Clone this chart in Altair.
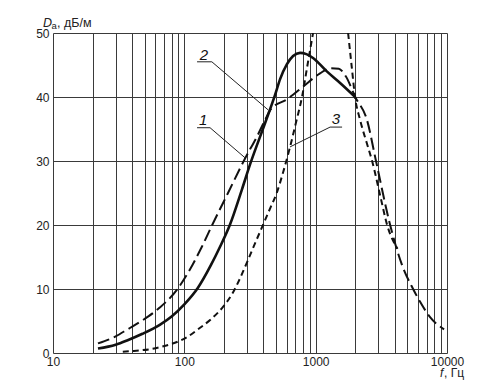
import altair as alt
import pandas as pd

# ---- data ----
# curve 1 (long dash)
f1 = [22, 30, 37, 48, 65, 88, 110, 136, 163, 215, 290, 357, 412, 460, 600, 800, 1080,
      1300, 1500, 1700, 2000, 2460, 2880, 3690, 4500, 5520, 6240, 7430, 9500]
y1 = [1.5, 2.6, 3.7, 5.1, 7.1, 9.9, 13.0, 16.6, 20.0, 25.0, 30.4, 33.8, 36.4, 38.2, 39.6,
      41.6, 43.7, 44.5, 44.4, 43.2, 40.0, 36.4, 30.0, 20.0, 14.0, 10.0, 8.0, 5.6, 3.7]
# curve 2 (solid)
f2 = [22, 30, 37, 48, 65, 80, 100, 127, 160, 187, 222, 274, 317, 420, 490, 536, 603, 673,
      760, 850, 955, 1216, 1535, 2000]
y2 = [0.7, 1.3, 2.0, 3.0, 4.4, 5.7, 7.6, 10.2, 13.8, 16.6, 20.0, 25.5, 29.5, 36.4, 40.3,
      42.8, 45.1, 46.4, 46.9, 46.7, 46.1, 44.0, 42.2, 40.0]
# curve 3 (short dash), two branches
f3a = [34, 40, 65, 105, 131, 160, 197, 234, 266, 305, 350, 397, 450, 505, 570, 638, 710,
       787, 870, 955]
y3a = [0.2, 0.3, 0.9, 2.5, 3.9, 5.3, 7.2, 9.4, 11.7, 14.5, 17.4, 20.0, 22.6, 25.0, 28.5,
       32.2, 36.1, 40.0, 45.2, 50.0]
f3b = [1766, 1880, 1995, 2180, 2450, 2690, 3100, 3500, 4200]
y3b = [50.0, 44.8, 40.0, 36.4, 32.8, 30.0, 24.6, 20.0, 16.3]

# curve labels and leader lines
lab_text = ["1", "2", "3"]
lab_f = [139, 141, 1429]
lab_y = [36.4, 46.6, 36.6]
lead_id = ["1", "1", "1", "2", "2", "2", "3", "3", "3"]
lead_f = [125, 157, 290, 125, 162, 434, 1589, 1288, 638]
lead_y = [35.2, 35.2, 30.5, 45.5, 45.5, 38.0, 35.3, 35.3, 32.2]

x_grid = [m * 10 ** e for e in (1, 2, 3) for m in range(1, 10)] + [10000]
y_ticks = [0, 10, 20, 30, 40, 50]

df1 = pd.DataFrame({"f": f1, "y": y1})
df2 = pd.DataFrame({"f": f2, "y": y2})
df3 = pd.DataFrame({"f": f3a + f3b, "y": y3a + y3b,
                    "seg": ["a"] * len(f3a) + ["b"] * len(f3b)})
dfl = pd.DataFrame({"t": lab_text, "f": lab_f, "y": lab_y})
dfs = pd.DataFrame({"id": lead_id, "f": lead_f, "y": lead_y, "i": list(range(len(lead_f)))})

FONT = "Liberation Sans"
INK = "#111111"

xscale = alt.Scale(type="log", domain=[10, 10000], nice=False)
yscale = alt.Scale(domain=[0, 50], nice=False, zero=False)
xaxis = alt.Axis(values=x_grid, format="d", title=None, grid=True, ticks=False,
                 domain=False, labelFlush=False, labelOverlap=False,
                 labelExpr="(datum.value == 10 || datum.value == 100 || datum.value == 1000 || datum.value == 10000) ? datum.label : ''",
                 labelFont=FONT, labelFontSize=12, labelColor="#222", labelPadding=3,
                 gridColor="#3a3a3a", gridWidth=1, gridOpacity=1)
yaxis = alt.Axis(values=y_ticks, title=None, grid=True, ticks=False, domain=False,
                 labelFont=FONT, labelFontSize=12, labelColor="#222", labelPadding=4,
                 gridColor="#3a3a3a", gridWidth=1.2, gridOpacity=1)
X = alt.X("f:Q", scale=xscale, axis=xaxis)
Y = alt.Y("y:Q", scale=yscale, axis=yaxis)

c1 = alt.Chart(df1).mark_line(color=INK, strokeWidth=2, strokeDash=[12, 5], clip=True,
                              interpolate="monotone").encode(x=X, y=Y)
c2 = alt.Chart(df2).mark_line(color=INK, strokeWidth=2.6, clip=True,
                              interpolate="monotone").encode(x=X, y=Y)
c3 = alt.Chart(df3).mark_line(color=INK, strokeWidth=2, strokeDash=[6, 4], clip=True,
                              interpolate="monotone").encode(x=X, y=Y, detail="seg:N")
leads = alt.Chart(dfs).mark_line(color="#222", strokeWidth=1).encode(
    x=X, y=Y, detail="id:N", order="i:Q")
labels = alt.Chart(dfl).mark_text(font=FONT, fontSize=15, fontStyle="italic",
                                  color=INK).encode(x=X, y=Y, text="t:N")

one = pd.DataFrame({"k": [0]})
tD = alt.Chart(one).mark_text(text="D", font=FONT, fontSize=12.5, fontStyle="italic",
                              align="left", baseline="middle", color="#222").encode(
    x=alt.value(-10), y=alt.value(-10))
ta = alt.Chart(one).mark_text(text="а", font=FONT, fontSize=9.5, align="left",
                              baseline="middle", color="#222").encode(
    x=alt.value(-1.5), y=alt.value(-7))
tu = alt.Chart(one).mark_text(text=", дБ/м", font=FONT, fontSize=12.5, align="left",
                              baseline="middle", color="#222").encode(
    x=alt.value(4), y=alt.value(-10))
tf = alt.Chart(one).mark_text(text="f", font=FONT, fontSize=12, fontStyle="italic",
                              align="left", baseline="middle", color="#222").encode(
    x=alt.value(387), y=alt.value(340))
tg = alt.Chart(one).mark_text(text=", Гц", font=FONT, fontSize=12, align="left",
                              baseline="middle", color="#222").encode(
    x=alt.value(391), y=alt.value(340))

chart = alt.layer(c1, c2, c3, leads, labels, tD, ta, tu, tf, tg).properties(
    width=394, height=320,
    autosize=alt.AutoSizeParams(type="none"),
    padding={"left": 45, "top": 25, "right": 41, "bottom": 31},
    background="white",
).configure_view(stroke=None)

chart.save("out.html", embed_options={"renderer": "svg", "actions": False})
